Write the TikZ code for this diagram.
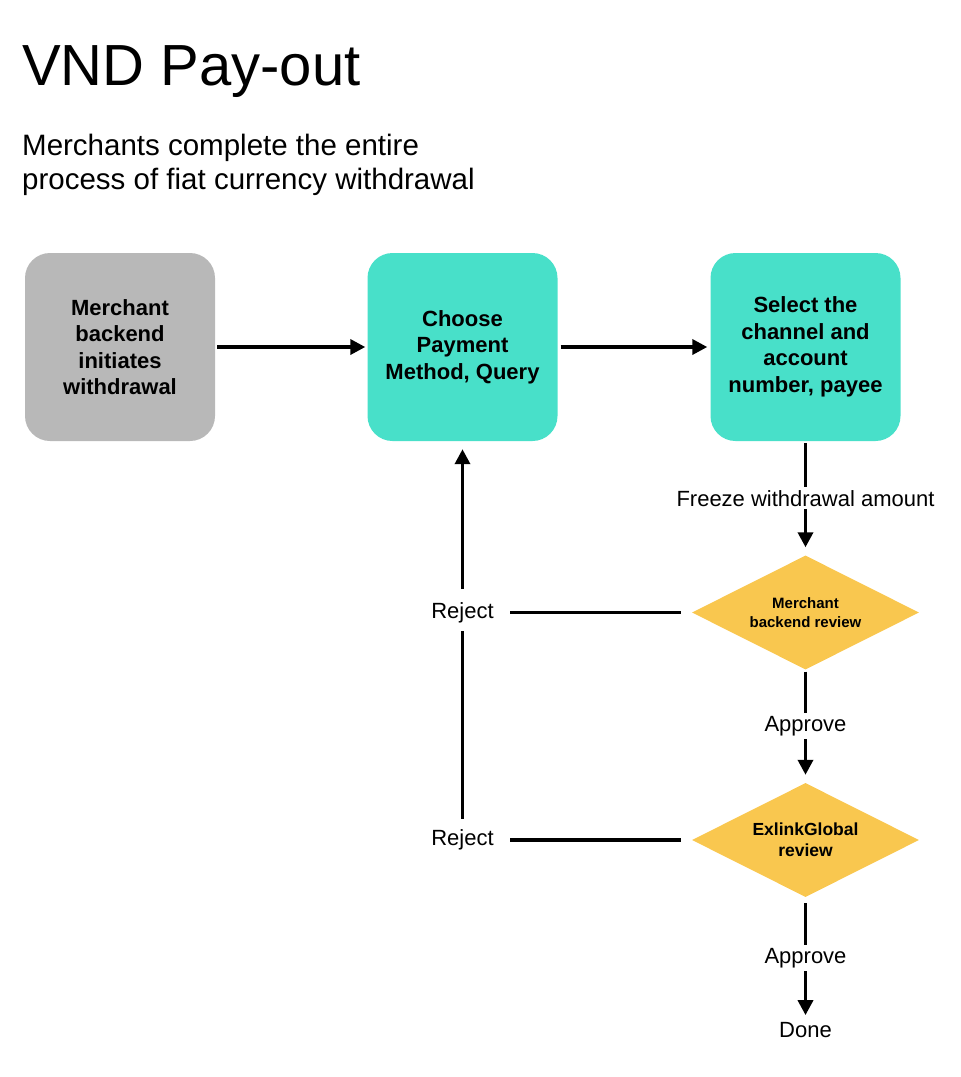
\documentclass[tikz,border=0pt]{standalone}
\usepackage{fontspec}
\setmainfont{Liberation Sans}
\usetikzlibrary{shapes.geometric,arrows.meta}
\definecolor{boxgray}{HTML}{B8B8B8}
\definecolor{boxteal}{HTML}{48E0C9}
\definecolor{boxyellow}{HTML}{F9C74F}

\begin{document}
\begin{tikzpicture}[x=1pt, y=-1pt,
    process/.style ={rectangle, rounded corners=25pt, minimum width=190pt, minimum height=188pt, inner sep=0pt, align=center, font=\fontsize{22}{26.5}\selectfont\bfseries},
    decision/.style ={diamond, shape aspect=2, fill=boxyellow, inner sep=0pt, minimum width=227pt, minimum height=114pt, align=center},
    caption/.style ={fill=white, inner sep=3pt, font=\fontsize{22}{26}\selectfont},
    flow/.style ={line width=3.5pt, -{Triangle[length=15pt,width=15pt]}}]
   \useasboundingbox (0,0) rectangle (961,1077);
   \node[anchor=base west, inner sep=0pt, font=\fontsize{58}{58}\selectfont] (title) at (22,85) {VND Pay-out};
   \node[anchor=north west, inner sep=0pt, align=left, font=\fontsize{29.5}{34}\selectfont] (subtitle) at (22,133.5) {Merchants complete the entire\\process of fiat currency withdrawal};

   \node[process, fill=boxgray] (merchant) at (120,347) {Merchant\\backend\\initiates\\withdrawal};
   \node[process, fill=boxteal] (choose)   at (462.5,347) {Choose\\Payment\\Method, Query};
   \node[process, fill=boxteal] (select)   at (805.5,347) {Select the\\channel and\\account\\number, payee};
   \node[decision, font=\fontsize{15}{19}\selectfont\bfseries] (review)  at (805.5,612.5) {Merchant\\backend review};
   \node[decision, font=\fontsize{17.5}{21}\selectfont\bfseries] (exlink) at (805.5,840) {ExlinkGlobal\\review};
   \node[caption] (done)    at (805.5,1030) {Done};
   \node[caption] (reject1) at (462.5,612.5) {Reject};
   \node[caption] (reject2) at (462.5,840) {Reject};

   \draw[flow, shorten <=2pt, shorten >=2pt] (merchant) to (choose);
   \draw[flow, shorten <=3pt, shorten >=3pt] (choose) to (select);
   \draw[flow, shorten <=2pt, shorten >=8pt] (select) to node[caption] {Freeze withdrawal amount} (review);
   \draw[flow, shorten <=2pt, shorten >=8pt] (review) to node[caption] {Approve} (exlink);
   \draw[flow, shorten <=6pt, shorten >=4pt] (exlink) to node[caption] {Approve} (done);
   \draw[line width=3.5pt, shorten <=11pt, shorten >=13pt] (review) to (reject1);
   \draw[line width=3.5pt, shorten <=11pt, shorten >=13pt] (exlink) to (reject2);
   \draw[line width=3.5pt, shorten <=8pt, shorten >=5pt] (reject2) to (reject1);
   \draw[flow, shorten <=10pt, shorten >=8pt] (reject1) to (choose);
\end{tikzpicture}
\end{document}
